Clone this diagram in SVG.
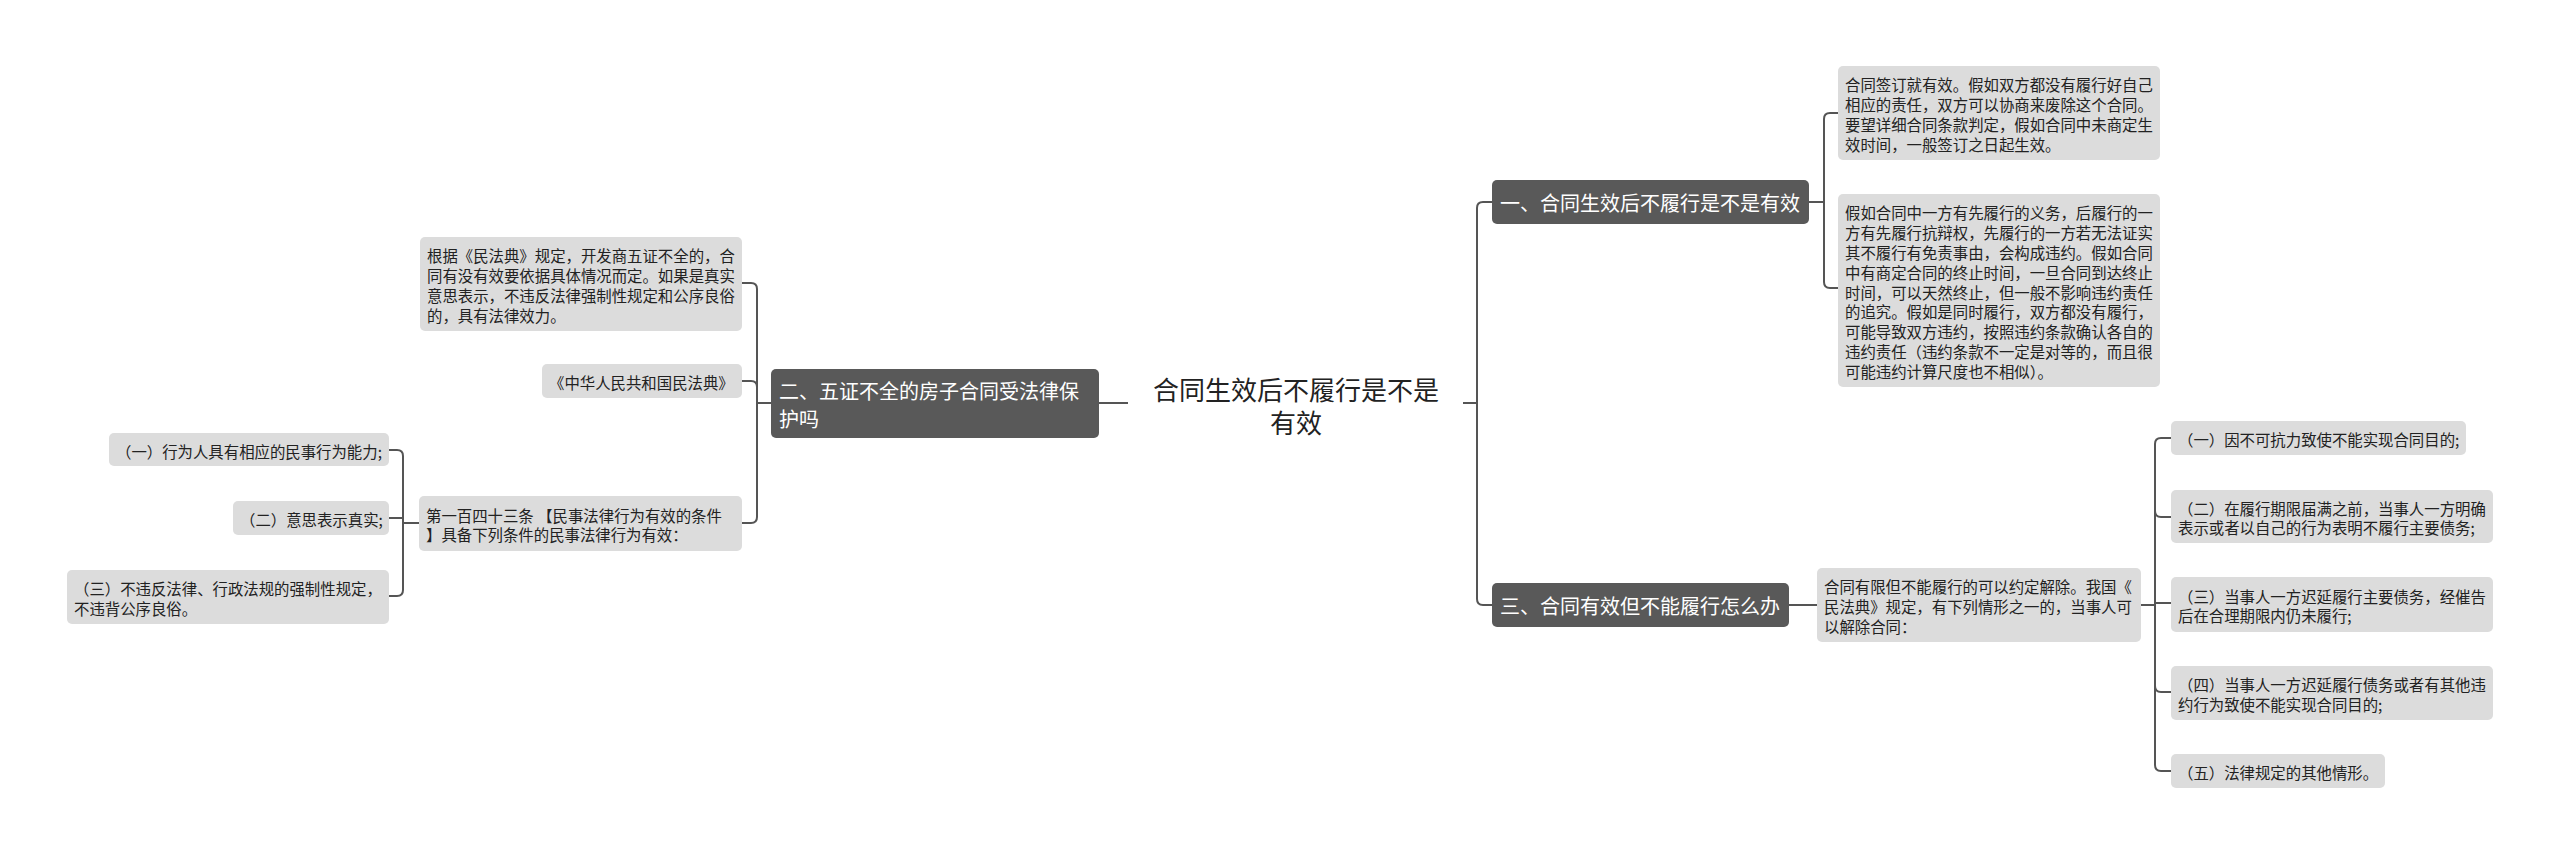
<svg xmlns="http://www.w3.org/2000/svg" width="2560" height="855" viewBox="0 0 2560 855">
<style>
text{font-family:'Noto Sans CJK SC','Noto Sans',sans-serif;dominant-baseline:central}
.root{font-size:26px;fill:#222;text-anchor:middle}
.main rect{fill:#595959}
.main text{font-size:20px;fill:#fff}
.leaf rect{fill:#dcdcdc}
.leaf text{font-size:15.4px;fill:#222}
.conn path{fill:none;stroke:#555;stroke-width:2}
</style>
<rect width="2560" height="855" fill="#fff"/>
<g class="conn" id="connectors">
<path d="M1099,403 H1128"/>
<path d="M1463,403 H1477"/>
<path d="M1492,202 H1483 Q1477,202 1477,208 V599 Q1477,605 1483,605 H1492"/>
<path d="M1809,202 H1824"/>
<path d="M1838,113 H1830 Q1824,113 1824,119 V282 Q1824,288 1830,288 H1838"/>
<path d="M1789,605 H1817"/>
<path d="M2141,605 H2155"/>
<path d="M2171,438 H2161 Q2155,438 2155,444 V765 Q2155,771 2161,771 H2171"/>
<path d="M2155,511 Q2155,517 2161,517 H2171"/>
<path d="M2155,603 H2171"/>
<path d="M2155,686 Q2155,692 2161,692 H2171"/>
<path d="M771,403 H757"/>
<path d="M741,283 H751 Q757,283 757,289 V517 Q757,523 751,523 H741"/>
<path d="M741,381 H751 Q757,381 757,387"/>
<path d="M419,523 H403"/>
<path d="M389,450 H397 Q403,450 403,456 V590 Q403,596 397,596 H389"/>
<path d="M389,518 H403"/>
</g>
<g id="root"><text class="root" x="1296" y="388">合同生效后不履行是不是</text><text class="root" x="1296" y="421">有效</text></g>
<g id="n1" class="main"><rect x="1492" y="180" width="317" height="44" rx="5"/><text x="1500" y="202">一、合同生效后不履行是不是有效</text></g>
<g id="n3" class="main"><rect x="1492" y="583" width="297" height="44" rx="5"/><text x="1500" y="605">三、合同有效但不能履行怎么办</text></g>
<g id="n2" class="main"><rect x="771" y="369" width="328" height="69" rx="5"/><text x="779" y="390">二、五证不全的房子合同受法律保</text><text x="779" y="418">护吗</text></g>
<g id="leaf1" class="leaf"><rect x="1838" y="66" width="322" height="94" rx="5"/>
<text x="1845" y="84.3">合同签订就有效。假如双方都没有履行好自己</text>
<text x="1845" y="104.1">相应的责任，双方可以协商来废除这个合同。</text>
<text x="1845" y="123.9">要望详细合同条款判定，假如合同中未商定生</text>
<text x="1845" y="143.7">效时间，一般签订之日起生效。</text></g>
<g id="leaf2" class="leaf"><rect x="1838" y="194" width="322" height="193" rx="5"/>
<text x="1845" y="212.3">假如合同中一方有先履行的义务，后履行的一</text>
<text x="1845" y="232.1">方有先履行抗辩权，先履行的一方若无法证实</text>
<text x="1845" y="251.9">其不履行有免责事由，会构成违约。假如合同</text>
<text x="1845" y="271.7">中有商定合同的终止时间，一旦合同到达终止</text>
<text x="1845" y="291.5">时间，可以天然终止，但一般不影响违约责任</text>
<text x="1845" y="311.3">的追究。假如是同时履行，双方都没有履行，</text>
<text x="1845" y="331.1">可能导致双方违约，按照违约条款确认各自的</text>
<text x="1845" y="350.9">违约责任（违约条款不一定是对等的，而且很</text>
<text x="1845" y="370.7">可能违约计算尺度也不相似）。</text></g>
<g id="leaf3" class="leaf"><rect x="1817" y="568" width="324" height="74" rx="5"/>
<text x="1824" y="586.2">合同有限但不能履行的可以约定解除。我国《</text>
<text x="1824" y="606">民法典》规定，有下列情形之一的，当事人可</text>
<text x="1824" y="625.8">以解除合同：</text></g>
<g id="l1" class="leaf"><rect x="2171" y="421" width="295" height="34" rx="5"/><text x="2178" y="439">（一）因不可抗力致使不能实现合同目的;</text></g>
<g id="l2" class="leaf"><rect x="2171" y="490" width="322" height="53" rx="5"/><text x="2178" y="507.6">（二）在履行期限届满之前，当事人一方明确</text><text x="2178" y="527.4">表示或者以自己的行为表明不履行主要债务;</text></g>
<g id="l3" class="leaf"><rect x="2171" y="577" width="322" height="55" rx="5"/><text x="2178" y="595.6">（三）当事人一方迟延履行主要债务，经催告</text><text x="2178" y="615.4">后在合理期限内仍未履行;</text></g>
<g id="l4" class="leaf"><rect x="2171" y="666" width="322" height="54" rx="5"/><text x="2178" y="684.1">（四）当事人一方迟延履行债务或者有其他违</text><text x="2178" y="703.9">约行为致使不能实现合同目的;</text></g>
<g id="l5" class="leaf"><rect x="2171" y="754" width="214" height="34" rx="5"/><text x="2178" y="772">（五）法律规定的其他情形。</text></g>
<g id="c2a" class="leaf"><rect x="420" y="237" width="322" height="94" rx="5"/>
<text x="427" y="255.3">根据《民法典》规定，开发商五证不全的，合</text>
<text x="427" y="275.1">同有没有效要依据具体情况而定。如果是真实</text>
<text x="427" y="294.9">意思表示，不违反法律强制性规定和公序良俗</text>
<text x="427" y="314.7">的，具有法律效力。</text></g>
<g id="c2b" class="leaf"><rect x="542" y="364" width="200" height="34" rx="5"/><text x="549" y="382">《中华人民共和国民法典》</text></g>
<g id="c2c" class="leaf"><rect x="419" y="496" width="323" height="55" rx="5"/><text x="426" y="514.6">第一百四十三条 【民事法律行为有效的条件</text><text x="426" y="534.4">】具备下列条件的民事法律行为有效：</text></g>
<g id="g1" class="leaf"><rect x="109" y="433" width="280" height="33" rx="5"/><text x="116" y="450.5">（一）行为人具有相应的民事行为能力;</text></g>
<g id="g2" class="leaf"><rect x="233" y="501" width="156" height="34" rx="5"/><text x="240" y="519">（二）意思表示真实;</text></g>
<g id="g3" class="leaf"><rect x="67" y="570" width="322" height="54" rx="5"/><text x="74" y="588.1">（三）不违反法律、行政法规的强制性规定，</text><text x="74" y="607.9">不违背公序良俗。</text></g>
</svg>
